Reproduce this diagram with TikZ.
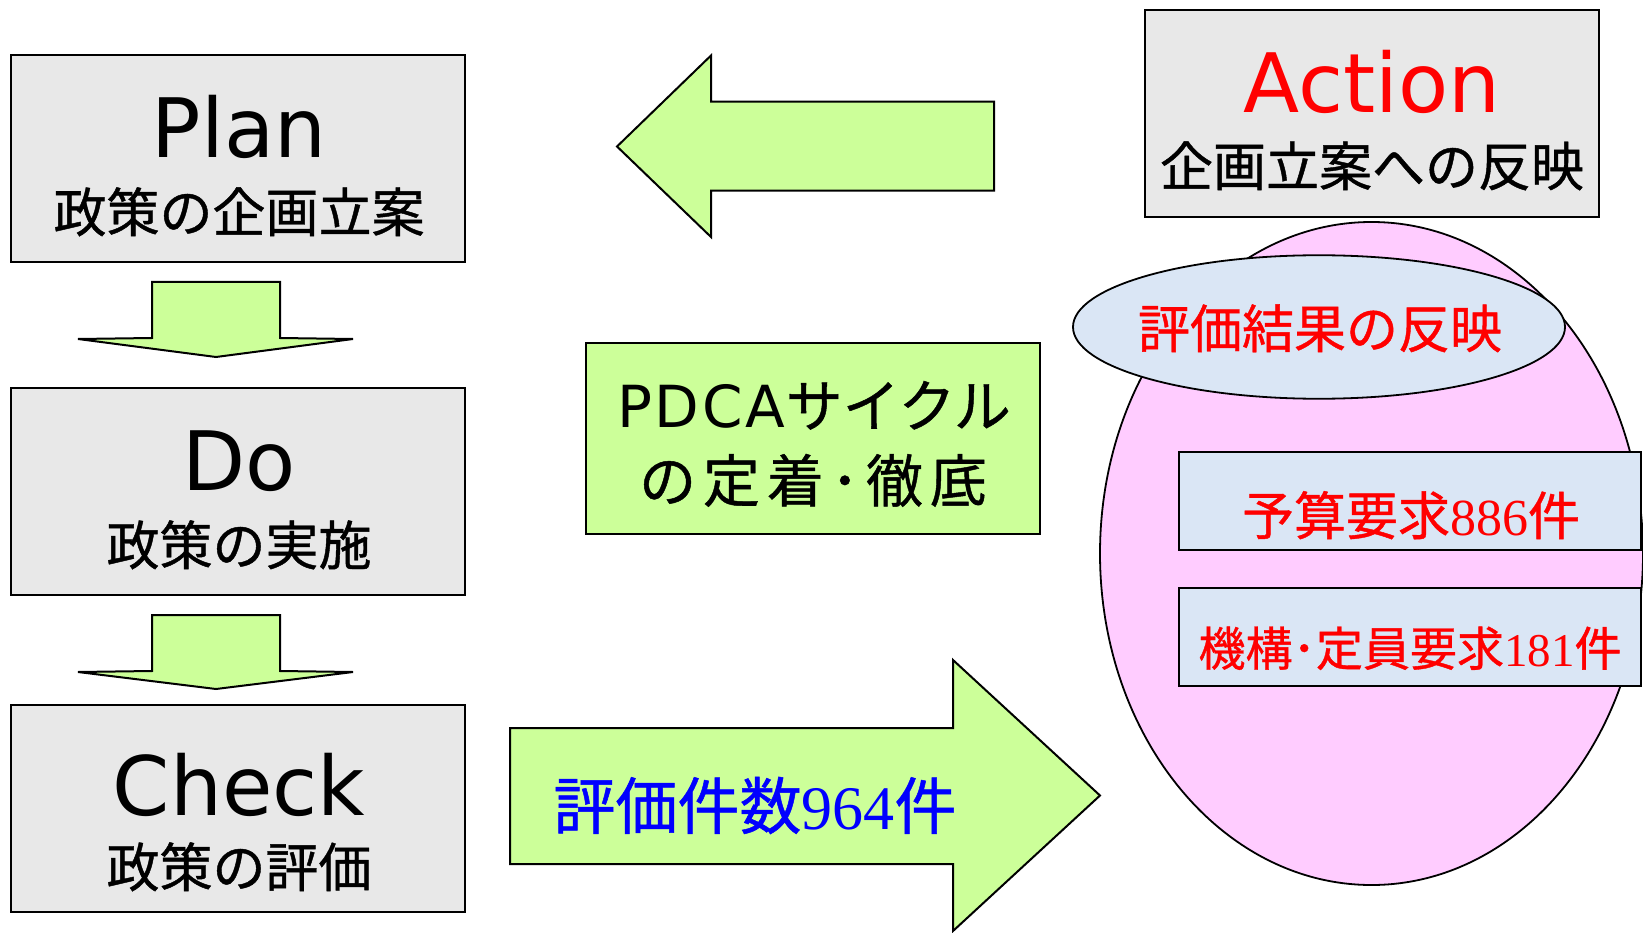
\documentclass[tikz,border=0pt]{standalone}
\usepackage{fontspec}
\setmainfont{DejaVu Sans}
\newfontfamily\jp[FakeBold=0.8]{Noto Sans CJK JP}
\newfontfamily\ser{Liberation Serif}
\usetikzlibrary{shapes.geometric}
\definecolor{boxgray}{HTML}{E8E8E8}
\definecolor{arrowgreen}{HTML}{CCFF99}
\definecolor{pinkfill}{HTML}{FFCCFF}
\definecolor{paleblue}{HTML}{DAE6F5}
\definecolor{redtext}{HTML}{FF0000}
\definecolor{bluetext}{HTML}{0000FF}
\newcommand\fsz[1]{\fontsize{#1}{#1}\selectfont}
\begin{document}
\begin{tikzpicture}[x=1pt,y=-1pt,
  graybox/.style={draw=black, line width=2pt, fill=boxgray, rectangle, inner sep=0pt},
  greenbox/.style={draw=black, line width=2pt, fill=arrowgreen, rectangle, inner sep=0pt},
  bluebox/.style={draw=black, line width=2pt, fill=paleblue, rectangle, inner sep=0pt},
  blockarrow/.style={draw=black, line width=2pt, fill=arrowgreen, line join=miter},
  txt/.style={inner sep=0pt, anchor=base}]
\useasboundingbox (0,0) rectangle (1643,933);
\fill[white] (0,0) rectangle (1643,933);

% left column boxes
\node[graybox, minimum width=453.5pt, minimum height=206.5pt] (plan) at (238,158.75) {};
\node[graybox, minimum width=453.5pt, minimum height=207pt] (do) at (238,491.5) {};
\node[graybox, minimum width=453.5pt, minimum height=207pt] (check) at (238,808.5) {};

\node[txt] (plant) at (239,158) {\fsz{82}Plan};
\node[txt] (planj) at (239,232) {\jp\fsz{53}政策の企画立案};
\node[txt] (dot) at (239,490) {\fsz{82}Do};
\node[txt] (doj) at (239,565) {\jp\fsz{53}政策の実施};
\node[txt] (checkt) at (239,815) {\fsz{82}Check};
\node[txt] (checkj) at (239,887) {\jp\fsz{53}政策の評価};

% down arrows
\draw[blockarrow] (152,282) -- (280,282) -- (280,338) -- (353,339) -- (216,357) -- (78,339) -- (152,338) -- cycle;
\draw[blockarrow] (152,615) -- (280,615) -- (280,671) -- (353,672) -- (216,689) -- (78,672) -- (152,671) -- cycle;

% left arrow (top)
\draw[blockarrow] (617,146.5) -- (711,55.5) -- (711,101.6) -- (994,101.6) -- (994,190.7) -- (711,190.7) -- (711,237) -- cycle;

% right arrow (bottom)
\draw[blockarrow] (510,728) -- (953,728) -- (953,660) -- (1100,795.5) -- (953,931) -- (953,864) -- (510,864) -- cycle;
\node[txt] (countt) at (755,829) {\color{bluetext}\jp\fsz{62}評価件数{\ser 964}件};

% PDCA box
\node[greenbox, minimum width=454pt, minimum height=191pt] (pdca) at (813,438.5) {};
\node[txt] (pdca1) at (814,427) {\fsz{58}\addfontfeature{LetterSpace=5}PDCA{\jp\fsz{57}サイクル}};
\node[txt] (pdca2) at (813,502) {\jp\fsz{57}\addfontfeature{LetterSpace=12}の定着･徹底};

% Action box
\node[graybox, minimum width=454pt, minimum height=206.5pt] (action) at (1372,113.75) {};
\node[txt] (actiont) at (1372,113) {\color{redtext}\fsz{82}Action};
\node[txt] (actionj) at (1372,186) {\jp\fsz{53}企画立案への反映};

% big ellipse and contents
\node[ellipse, draw=black, line width=1.8pt, fill=pinkfill, inner sep=0pt, minimum width=543pt, minimum height=663pt] (big) at (1371.5,553.5) {};
\node[ellipse, draw=black, line width=1.8pt, fill=paleblue, inner sep=0pt, minimum width=492pt, minimum height=143.5pt] (result) at (1319,327) {};
\node[txt] (resultt) at (1320,348) {\color{redtext}\jp\fsz{52}評価結果の反映};

\node[bluebox, minimum width=462pt, minimum height=98.5pt] (budget) at (1410,501) {};
\node[txt] (budgett) at (1411,535) {\color{redtext}\jp\fsz{52}予算要求{\ser 886}件};
\node[bluebox, minimum width=462pt, minimum height=98pt] (staff) at (1410,637) {};
\node[txt] (stafft) at (1410,666) {\color{redtext}\jp\fsz{47}機構･定員要求{\ser 181}件};
\end{tikzpicture}
\end{document}
